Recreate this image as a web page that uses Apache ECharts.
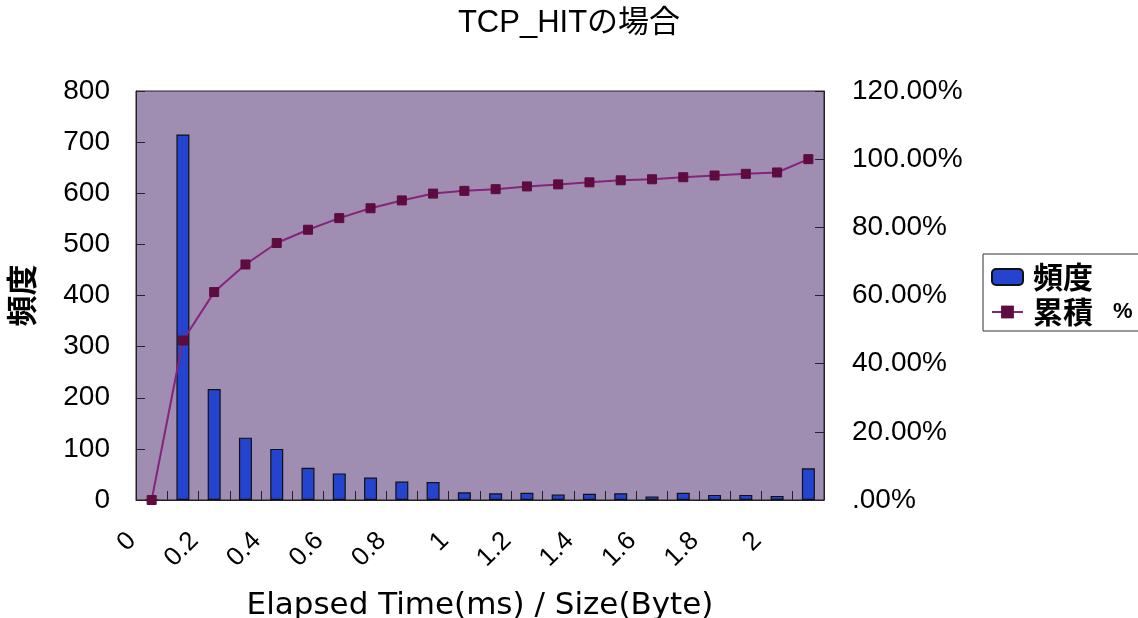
<!DOCTYPE html>
<html>
<head>
<meta charset="utf-8">
<script src="https://cdn.jsdelivr.net/npm/echarts@6/dist/echarts.min.js"></script>
<style>
  html, body { margin: 0; padding: 0; background: #ffffff; }
  #chart { width: 1138px; height: 618px; }
</style>
</head>
<body>
<div id="chart"></div>
<script>
// Histogram bins (0.1 steps) plus the overflow bin
const categories = ['0', '0.1', '0.2', '0.3', '0.4', '0.5', '0.6', '0.7', '0.8', '0.9', '1',
  '1.1', '1.2', '1.3', '1.4', '1.5', '1.6', '1.7', '1.8', '1.9', '2', '次の級'];
// Count per bin
const frequency = [0, 715, 217, 122, 100, 63, 52, 44, 36, 35, 15, 13, 14, 11, 12, 13, 7, 14, 10, 10, 8, 62];
// Cumulative share in percent
const cumulative = [0, 46.8, 61.0, 69.1, 75.4, 79.3, 82.7, 85.6, 87.9, 89.9, 90.7, 91.2, 92.0, 92.6, 93.2, 93.8, 94.1, 94.7, 95.2, 95.7, 96.1, 100];
// Axis ranges
const countTicks = { min: 0, max: 800, interval: 100 };
const pctTicks = { min: 0, max: 120, interval: 20 };

const SANS = '"Liberation Sans", "Noto Sans CJK JP", sans-serif';
const WIDE = '"DejaVu Sans", "Noto Sans CJK JP", sans-serif';
const CJK = '"Noto Sans CJK JP", "Liberation Sans", sans-serif';

const chart = echarts.init(document.getElementById('chart'), null, { renderer: 'canvas' });
chart.setOption({
  animation: false,
  backgroundColor: '#ffffff',
  title: {
    text: 'TCP_HITの場合',
    left: 'center',
    top: 3,
    textStyle: { fontFamily: SANS, fontSize: 31, fontWeight: 'normal', color: '#000' }
  },
  legend: {
    orient: 'vertical',
    left: 983,
    top: 254,
    backgroundColor: '#ffffff',
    borderColor: '#333',
    borderWidth: 1,
    borderRadius: 0,
    padding: [8, 20, 4, 8],
    itemGap: 5,
    itemWidth: 31,
    itemHeight: 16,
    textStyle: {
      fontFamily: CJK, fontSize: 30, fontWeight: 'bold', color: '#000', lineHeight: 30,
      padding: [0, 0, 0, 5],
      rich: {
        p: { fontFamily: SANS, fontSize: 22, fontWeight: 'bold', color: '#000', padding: [0, 0, 0, 20] }
      }
    },
    formatter: name => name === '累積 %' ? '累積{p|%}' : name,
    data: ['頻度', '累積 %']
  },
  grid: {
    left: 136,
    right: 314,
    top: 91,
    bottom: 118,
    outerBoundsMode: 'none',
    show: true,
    backgroundColor: '#9f8eb2',
    borderColor: '#222',
    borderWidth: 1
  },
  xAxis: {
    type: 'category',
    data: categories,
    boundaryGap: true,
    name: 'Elapsed Time(ms) / Size(Byte)',
    nameLocation: 'middle',
    nameGap: 90,
    nameTextStyle: { fontFamily: WIDE, fontSize: 31, color: '#000' },
    axisLine: { show: true, lineStyle: { color: '#222', width: 1 } },
    axisTick: { show: true, inside: true, length: 9, interval: 0, lineStyle: { color: '#222' } },
    axisLabel: {
      interval: 1,
      rotate: 45,
      margin: 17,
      padding: [0, 28, 0, 0],
      fontFamily: SANS,
      fontSize: 26,
      color: '#000'
    },
    splitLine: { show: false }
  },
  yAxis: [
    {
      type: 'value',
      min: countTicks.min,
      max: countTicks.max,
      interval: countTicks.interval,
      name: '頻度',
      nameLocation: 'middle',
      nameRotate: 90,
      nameGap: 99,
      nameTextStyle: { fontFamily: CJK, fontSize: 31, fontWeight: 'bold', color: '#000' },
      axisLine: { show: true, lineStyle: { color: '#222' } },
      axisTick: { show: true, inside: true, length: 9, lineStyle: { color: '#222' } },
      axisLabel: { margin: 26, fontFamily: SANS, fontSize: 28, color: '#000' },
      splitLine: { show: false }
    },
    {
      type: 'value',
      min: pctTicks.min,
      max: pctTicks.max,
      interval: pctTicks.interval,
      position: 'right',
      axisLine: { show: true, lineStyle: { color: '#222' } },
      axisTick: { show: true, inside: true, length: 9, lineStyle: { color: '#222' } },
      axisLabel: {
        margin: 28,
        fontFamily: SANS,
        fontSize: 28,
        color: '#000',
        formatter: v => v === 0 ? '.00%' : v.toFixed(2) + '%'
      },
      splitLine: { show: false }
    }
  ],
  series: [
    {
      name: '頻度',
      type: 'bar',
      yAxisIndex: 0,
      data: frequency,
      barWidth: 13,
      itemStyle: { color: '#2444cf', borderColor: '#111', borderWidth: 1.2 },
      z: 2
    },
    {
      name: '累積 %',
      type: 'line',
      yAxisIndex: 1,
      data: cumulative,
      clip: false,
      symbol: 'rect',
      symbolSize: 9,
      lineStyle: { color: '#86237a', width: 2 },
      itemStyle: { color: '#5e0b3f', borderColor: '#5e0b3f' },
      z: 3
    }
  ]
});
</script>
</body>
</html>
